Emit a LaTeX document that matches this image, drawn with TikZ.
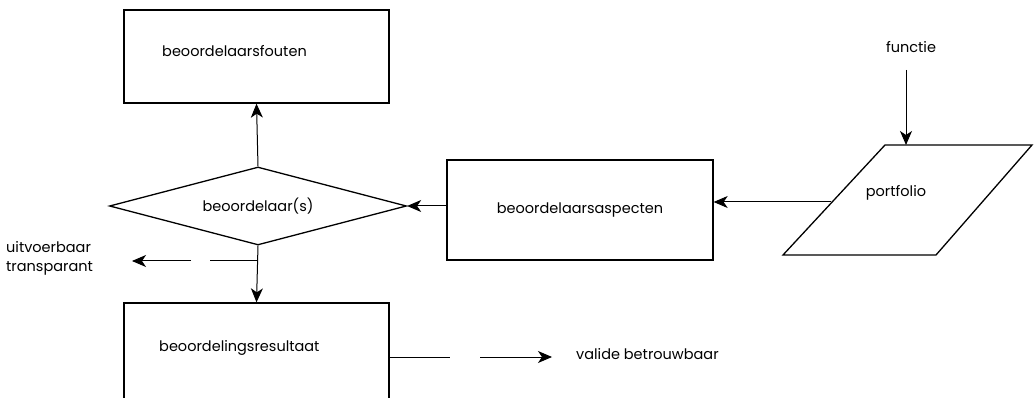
\documentclass[tikz,border=0pt]{standalone}
\usepackage{fontspec}
\setmainfont{Poppins}
\usetikzlibrary{arrows.meta,shapes.geometric}
\begin{document}
\begin{tikzpicture}[x=1pt,y=-1pt,
  every node/.style={font=\fontsize{14.5}{19}\selectfont},
  box/.style={draw,line width=1.3pt,minimum width=265pt,minimum height=93pt,inner sep=0pt},
  lbl/.style={inner sep=0pt},
  con/.style={line width=1pt,-{Stealth[length=14pt,width=12pt,inset=4pt]}},
  seg/.style={line width=1pt}]
\useasboundingbox (0,0) rectangle (1034,398);
% boxes
\node[box] (fouten) at (256.5,56.5) {};
\node[lbl,anchor=west] (foutent) at (162,51) {beoordelaarsfouten};
\node[draw,line width=1.3pt,diamond,aspect=3.8,inner sep=0pt,minimum width=297pt,minimum height=78pt] (beo) at (258,206) {beoordelaar(s)};
\node[draw,line width=1.3pt,minimum width=266pt,minimum height=100pt,inner sep=0pt] (asp) at (580,210) {beoordelaarsaspecten};
\node[box,minimum height=96pt] (res) at (256.5,351) {};
\node[lbl,anchor=west] (rest) at (159,348) {beoordelingsresultaat};
% parallelogram
\coordinate (p1) at (885,145);
\coordinate (p2) at (1032,145);
\coordinate (p3) at (936,255);
\coordinate (p4) at (783,255);
\draw[line width=1.3pt,line join=miter] (p1) -- (p2) -- (p3) -- (p4) -- cycle;
\node[lbl] (port) at (896,193) {portfolio};
\coordinate (pl) at (831,202);
\node[lbl] (func) at (911,47) {functie};
\coordinate (ptop) at (906,145);
% labels
\node[lbl,anchor=west,align=left] (uit) at (6,258) {uitvoerbaar\\transparant};
\node[lbl,anchor=west] (val) at (576,354) {valide betrouwbaar};
% connectors
\draw[con] (906,70) -- (ptop);
\draw[con] (pl) -- (asp.east |- pl);
\draw[con] (asp.west |- beo.east) -- (beo.east);
\draw[con] (beo.north) -- (fouten.south);
\draw[con] (beo.south) -- (res.north);
\coordinate (d1) at (258,261);
\coordinate (d2) at (210,261);
\coordinate (d3) at (191,261);
\coordinate (d4) at (132,261);
\draw[seg] (d1) -- (d2);
\draw[con] (d3) -- (d4);
\coordinate (r1) at (389,357);
\coordinate (r2) at (450,357);
\coordinate (r3) at (480,357);
\coordinate (r4) at (552,357);
\draw[seg] (r1) -- (r2);
\draw[con] (r3) -- (r4);
\end{tikzpicture}
\end{document}
